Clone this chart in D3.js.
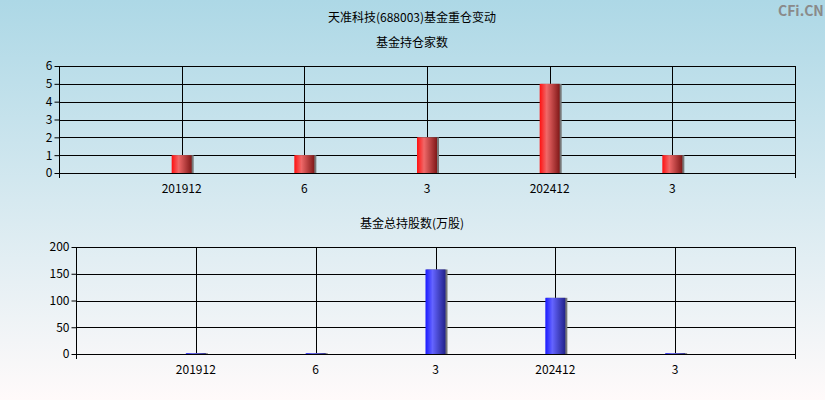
<!DOCTYPE html>
<html>
<head>
<meta charset="utf-8">
<script src="https://cdn.jsdelivr.net/npm/d3@7"></script>
<style>
  html, body { margin: 0; padding: 0; }
  body { width: 825px; height: 400px; overflow: hidden; }
  text { font-family: "Microsoft YaHei", "Noto Sans CJK SC", sans-serif; }
</style>
</head>
<body>
<svg id="chart" width="825" height="400"></svg>
<script>
// Report periods (x axis labels)
const periods = ['201912', '6', '3', '202412', '3'];
// Number of funds holding
const fundCount = [1, 1, 2, 5, 1];
// Total shares held by funds (10k shares)
const fundShares = [1.5, 1.5, 158, 105, 1.5];

const countTicks = [0, 1, 2, 3, 4, 5, 6];
const shareTicks = [0, 50, 100, 150, 200];

const svg = d3.select('#chart');
const W = 825, H = 400;
const LATIN = 'Arial, "Liberation Sans", sans-serif';

// Defs: background + bar gradients
const defs = svg.append('defs');
const bg = defs.append('linearGradient').attr('id', 'bg')
  .attr('x1', 0).attr('y1', 0).attr('x2', 0).attr('y2', 1);
bg.append('stop').attr('offset', '0%').attr('stop-color', '#add8e6');
bg.append('stop').attr('offset', '100%').attr('stop-color', '#fffafa');

function barGrad(id, c1, c2, c3) {
  const g = defs.append('linearGradient').attr('id', id)
    .attr('x1', 0).attr('y1', 0).attr('x2', 1).attr('y2', 0);
  g.append('stop').attr('offset', '0%').attr('stop-color', c1);
  g.append('stop').attr('offset', '35%').attr('stop-color', c2);
  g.append('stop').attr('offset', '100%').attr('stop-color', c3);
}
barGrad('red', '#ff1010', '#f06868', '#801818');
barGrad('blue', '#1a1aff', '#6464ff', '#22228a');

svg.append('rect').attr('width', W).attr('height', H).attr('fill', 'url(#bg)');

// Titles
svg.append('text').attr('x', 412).attr('y', 22).attr('text-anchor', 'middle')
  .attr('font-size', '12px').attr('fill', '#000').text('天准科技(688003)基金重仓变动');
svg.append('text').attr('x', 778).attr('y', 16)
  .attr('font-size', '14px').attr('font-weight', 'bold').attr('fill', '#8a8a8a')
  .attr('font-family', LATIN).text('CFi.CN');

function panel(opts) {
  const { left, right, top, bottom, values, ticks, max, fill, title, titleY } = opts;

  svg.append('text').attr('x', 412).attr('y', titleY).attr('text-anchor', 'middle')
    .attr('font-size', '12px').attr('fill', '#000').text(title);

  // 6 slots, category points at slots 1..5
  const x = d3.scaleLinear().domain([0, periods.length + 1]).range([left, right]);
  const y = d3.scaleLinear().domain([0, max]).range([bottom, top]);
  const g = svg.append('g');

  // horizontal grid
  g.selectAll('line.h').data(ticks).enter().append('line')
    .attr('x1', left).attr('x2', right)
    .attr('y1', d => Math.round(y(d)) + 0.5).attr('y2', d => Math.round(y(d)) + 0.5)
    .attr('stroke', '#000').attr('stroke-width', 1);

  // vertical grid at categories
  g.selectAll('line.v').data(periods).enter().append('line')
    .attr('x1', (d, i) => Math.round(x(i + 1)) + 0.5).attr('x2', (d, i) => Math.round(x(i + 1)) + 0.5)
    .attr('y1', top).attr('y2', bottom)
    .attr('stroke', '#000').attr('stroke-width', 1);

  // frame sides + end ticks
  [left, right].forEach(px => {
    g.append('line').attr('x1', Math.round(px) + 0.5).attr('x2', Math.round(px) + 0.5)
      .attr('y1', top).attr('y2', bottom + 5).attr('stroke', '#000');
  });

  // bars
  const bw = 20;
  const bars = g.selectAll('g.bar').data(values).enter().append('g');
  bars.append('rect')
    .attr('x', (d, i) => x(i + 1) - bw / 2 + 1)
    .attr('y', d => y(d))
    .attr('width', bw + 1).attr('height', d => bottom - y(d))
    .attr('fill', '#777');
  bars.append('rect')
    .attr('x', (d, i) => x(i + 1) - bw / 2)
    .attr('y', d => y(d))
    .attr('width', bw).attr('height', d => bottom - y(d))
    .attr('fill', `url(#${fill})`);

  // redraw baseline on top of bars
  g.append('line').attr('x1', left).attr('x2', right)
    .attr('y1', Math.round(bottom) + 0.5).attr('y2', Math.round(bottom) + 0.5).attr('stroke', '#000');

  // y axis ticks and labels
  const yAxis = d3.axisLeft(y).tickValues(ticks).tickFormat(d3.format('d')).tickSize(5).tickPadding(2);
  const ya = svg.append('g').attr('transform', `translate(${Math.round(left) + 0.5},0)`).call(yAxis);
  ya.select('.domain').remove();
  ya.selectAll('line').attr('stroke', '#000');
  ya.selectAll('text').attr('font-size', '12px').attr('fill', '#000')
    .attr('font-family', LATIN);

  // x labels
  svg.append('g').selectAll('text').data(periods).enter().append('text')
    .attr('x', (d, i) => x(i + 1)).attr('y', bottom + 20)
    .attr('text-anchor', 'middle').attr('font-size', '12px').attr('fill', '#000')
    .attr('font-family', LATIN)
    .text(d => d);
}

panel({ left: 59, right: 795, top: 66, bottom: 173, values: fundCount, ticks: countTicks,
  max: 6, fill: 'red', title: '基金持仓家数', titleY: 47 });
panel({ left: 76, right: 795, top: 247, bottom: 354, values: fundShares, ticks: shareTicks,
  max: 200, fill: 'blue', title: '基金总持股数(万股)', titleY: 228 });
</script>
</body>
</html>
